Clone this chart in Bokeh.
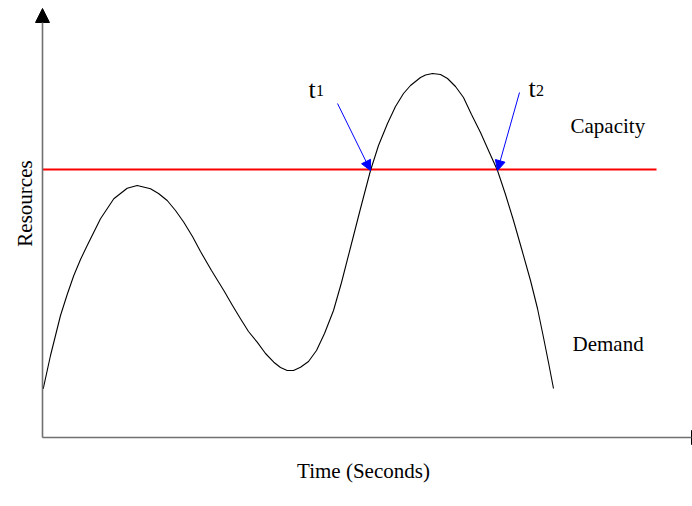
from bokeh.plotting import figure
from bokeh.models import Range1d, Arrow, NormalHead, Label
from bokeh.embed import file_html
from bokeh.resources import INLINE
import math

# ---- data (time units, resource units) ----
time = [0.07, 0.8, 1.8, 2.47, 3.13, 3.8, 4.47, 5.8, 7.13, 8.47, 9.47, 10.8, 11.6, 12.47,
        13.3, 14.13, 15.0, 15.8, 16.9, 18.13, 19.0, 19.8, 20.6, 21.47, 22.3, 23.13, 23.8,
        24.47, 25.1, 25.8, 26.6, 27.4, 28.2, 29.1, 29.9, 30.8, 31.8, 32.8, 33.6, 34.5,
        35.3, 36.1, 36.8, 37.8, 38.3, 39.0, 39.8, 40.5, 41.3, 42.1, 42.9, 43.8, 44.6,
        45.5, 46.3, 47.1, 47.9, 48.8, 49.5, 50.1, 50.6, 51.1]
demand = [4.87, 8.2, 12.2, 14.3, 16.2, 17.8, 19.2, 21.87, 23.87, 24.93, 25.2, 24.87, 24.4,
          23.7, 22.7, 21.53, 20.1, 18.6, 16.7, 14.7, 13.2, 11.87, 10.6, 9.53, 8.4, 7.53,
          7.0, 6.7, 6.7, 7.03, 7.6, 8.7, 10.4, 12.7, 15.5, 19.0, 22.9, 26.7, 29.2, 31.4,
          33.1, 34.4, 35.2, 36.0, 36.25, 36.4, 36.3, 35.9, 35.1, 34.0, 32.3, 30.5, 28.7,
          26.7, 24.3, 21.7, 18.9, 15.7, 12.9, 10.0, 7.5, 4.9]
capacity_level = 26.8
capacity_end = 61.4
t1_point = (32.8, 26.7)
t2_point = (45.5, 26.7)

x_title = "Time (Seconds)"
y_title = "Resources"
capacity_label = "Capacity"
demand_label = "Demand"

FONT = "Liberation Serif"

p = figure(width=692, height=506, output_backend="svg", toolbar_location=None,
           x_range=Range1d(-4.2, 65.0), y_range=Range1d(-6.9, 43.7),
           x_axis_location=None, y_axis_location=None,
           min_border=0, min_border_left=0, min_border_right=0,
           min_border_top=0, min_border_bottom=0)
p.grid.visible = False
p.outline_line_color = None
p.background_fill_color = "white"
p.border_fill_color = "white"

axis_col = "#707070"
# x axis arrow (head mostly beyond the right edge)
p.add_layout(Arrow(end=NormalHead(size=14, fill_color="black", line_color="black"),
                   x_start=0, y_start=0, x_end=66.3, y_end=0,
                   line_color=axis_col, line_width=1.6))
# y axis arrow
p.add_layout(Arrow(end=NormalHead(size=14, fill_color="black", line_color="black"),
                   x_start=0, y_start=0, x_end=0, y_end=42.9,
                   line_color=axis_col, line_width=1.6))

# capacity line
p.segment(x0=[0], y0=[capacity_level], x1=[capacity_end], y1=[capacity_level],
          line_color="#ff0000", line_width=1.8)

# demand curve
p.line(time, demand, line_color="black", line_width=1.1, line_join="round")

# blue arrows
p.add_layout(Arrow(end=NormalHead(size=10, fill_color="#0000ff", line_color="#0000ff"),
                   x_start=29.5, y_start=33.4, x_end=t1_point[0], y_end=t1_point[1],
                   line_color="#0000ff", line_width=1))
p.add_layout(Arrow(end=NormalHead(size=10, fill_color="#0000ff", line_color="#0000ff"),
                   x_start=47.7, y_start=34.5, x_end=t2_point[0], y_end=t2_point[1],
                   line_color="#0000ff", line_width=1))

def lab(x, y, text, size, align="left", angle=0.0):
    p.add_layout(Label(x=x, y=y, text=text, text_font=FONT, text_font_size=size,
                       text_align=align, text_baseline="alphabetic", angle=angle,
                       text_color="black"))

lab(26.6, 34.8, "t", "26px")
lab(27.35, 34.7, "1", "16px")
lab(48.6, 34.9, "t", "26px")
lab(49.35, 34.7, "2", "16px")
lab(52.8, 31.2, capacity_label, "21px")
lab(53.0, 9.4, demand_label, "21px")
lab(32.1, -3.3, x_title, "21px", align="center")
lab(-1.8, 23.4, y_title, "21px", align="center", angle=math.pi / 2)

open("out.html", "w").write(file_html(p, INLINE))
